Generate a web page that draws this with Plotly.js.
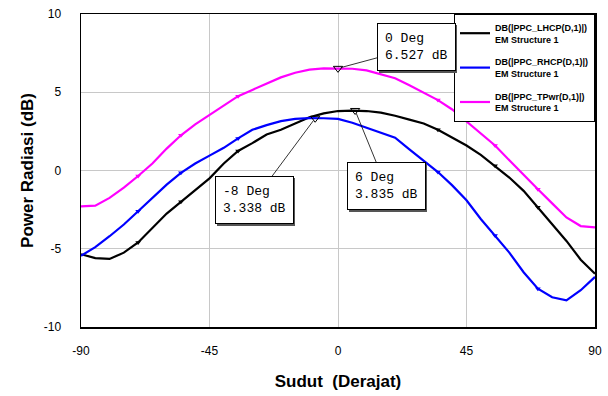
<!DOCTYPE html>
<html>
<head>
<meta charset="utf-8">
<script src="https://cdn.plot.ly/plotly-3.0.1.min.js"></script>
<style>html,body{margin:0;padding:0;background:#fff;}#chart{width:608px;height:396px;}</style>
</head>
<body>
<div id="chart"></div>
<script>
// Angle (degrees)
const angles = [-90,-85,-80,-75,-70,-65,-60,-55,-50,-45,-40,-35,-30,-25,-20,-15,-10,-5,0,5,10,15,20,25,30,35,40,45,50,55,60,65,70,75,80,85,90];
// DB(|PPC_LHCP(D,1)|)
const lhcp = [-5.35,-5.6,-5.65,-5.25,-4.6,-3.7,-2.75,-2.0,-1.25,-0.5,0.45,1.25,1.75,2.3,2.6,3.0,3.4,3.65,3.8,3.83,3.8,3.7,3.5,3.25,3.0,2.6,2.1,1.6,1.0,0.3,-0.45,-1.3,-2.35,-3.45,-4.5,-5.7,-6.6];
// DB(|PPC_RHCP(D,1)|)
const rhcp = [-5.45,-4.9,-4.2,-3.45,-2.6,-1.75,-0.9,-0.15,0.45,0.95,1.45,2.05,2.6,2.9,3.15,3.3,3.35,3.34,3.3,3.05,2.73,2.45,2.1,1.35,0.65,-0.1,-0.95,-1.9,-3.1,-4.15,-5.25,-6.5,-7.55,-8.1,-8.3,-7.65,-6.8];
// DB(|PPC_TPwr(D,1)|)
const tpwr = [-2.29,-2.25,-1.75,-1.1,-0.35,0.45,1.4,2.25,2.95,3.55,4.2,4.75,5.15,5.55,5.95,6.25,6.45,6.53,6.527,6.5,6.4,6.15,5.9,5.45,5.0,4.5,3.9,3.15,2.4,1.6,0.65,-0.3,-1.2,-2.1,-3.0,-3.55,-3.63];

const seriesNames = ["DB(|PPC_LHCP(D,1)|)<br>EM Structure 1","DB(|PPC_RHCP(D,1)|)<br>EM Structure 1","DB(|PPC_TPwr(D,1)|)<br>EM Structure 1"];
const seriesColors = ["#000000","#0000ff","#ff00ff"];
const seriesValues = [lhcp, rhcp, tpwr];

// identification marker angles on each curve
const idMarkerAngles = [-70,-55,-35,35,55,70];

// Marker readouts
const markerAngles = [0, -8, 6];
const markerValues = [6.527, 3.338, 3.835];
const markerOffsets = [[78,-21],[-61,82],[31,76]];

const xTicks = [-90,-45,0,45,90];
const yTicks = [-10,-5,0,5,10];

const traces = [];
seriesValues.forEach((vals,i)=>{
  traces.push({x:angles, y:vals, mode:'lines', name:seriesNames[i], legendgroup:'g'+i,
    line:{color:seriesColors[i], width:2.2}});
});
seriesValues.forEach((vals,i)=>{
  const mx=[], my=[];
  idMarkerAngles.forEach(a=>{const k=angles.indexOf(a); mx.push(a); my.push(vals[k]);});
  traces.push({x:mx, y:my, mode:'markers', showlegend:false, hoverinfo:'skip',
    marker:{symbol:'triangle-down', size:5, color:seriesColors[i]}});
});
traces.push({x:markerAngles, y:markerValues, mode:'markers', showlegend:false,
  marker:{symbol:'triangle-down-open', size:8, color:'#000', line:{width:1}}});

const annotations = [];
const monoFont = 'Liberation Mono, DejaVu Sans Mono, monospace';
const blank = s => s.replace(/./g, '\u00a0');
markerAngles.forEach((a,i)=>{
  const l1 = a + " Deg", l2 = markerValues[i].toFixed(3) + " dB";
  const txt = l1 + "<br>" + l2;
  // drop shadow box (blank text of equal width in monospace)
  annotations.push({x:a, y:markerValues[i], xref:'x', yref:'y', text:blank(l1) + "<br>" + blank(l2), showarrow:true,
    ax:markerOffsets[i][0], ay:markerOffsets[i][1], xshift:2, yshift:-2, arrowcolor:'rgba(0,0,0,0)',
    arrowhead:0, align:'left', bgcolor:'#555', bordercolor:'#555', borderwidth:1, borderpad:7,
    font:{family:monoFont, size:13, color:'#555'}});
  annotations.push({x:a, y:markerValues[i], xref:'x', yref:'y', text:txt, showarrow:true,
    ax:markerOffsets[i][0], ay:markerOffsets[i][1], arrowcolor:'#000', arrowwidth:0.8,
    arrowhead:0, standoff:3, align:'left', bgcolor:'#fff', bordercolor:'#000', borderwidth:1, borderpad:7,
    font:{family:monoFont, size:13, color:'#000'}});
});

const layout = {
  width:608, height:396,
  margin:{l:81, r:13, t:14, b:69},
  paper_bgcolor:'#fff', plot_bgcolor:'#fff',
  showlegend:true,
  legend:{x:1, xanchor:'right', y:1, yanchor:'top', bgcolor:'#fff', bordercolor:'#000', borderwidth:1,
    font:{family:'Liberation Sans, Arial, sans-serif', size:9, color:'#000', weight:'bold'}, itemwidth:30, tracegroupgap:8},
  xaxis:{range:[-90,90], tickvals:xTicks, ticktext:xTicks.map(String), showgrid:true, gridcolor:'#c8c8c8', gridwidth:1,
    zeroline:false, showline:true, linecolor:'#000', linewidth:1.5, mirror:true, ticks:'', ticklabelstandoff:12,
    tickfont:{family:'Liberation Sans, Arial, sans-serif', size:12, color:'#000'},
    title:{text:'Sudut  (Derajat)', standoff:18, font:{family:'Liberation Sans, Arial, sans-serif', size:17, color:'#000', weight:'bold'}}},
  yaxis:{range:[-10,10], tickvals:yTicks, ticktext:yTicks.map(String), showgrid:true, gridcolor:'#c8c8c8', gridwidth:1,
    zeroline:false, showline:true, linecolor:'#000', linewidth:1.5, mirror:true, ticks:'', ticklabelstandoff:16,
    tickfont:{family:'Liberation Sans, Arial, sans-serif', size:12, color:'#000'},
    title:{text:'Power Radiasi (dB)', standoff:6, font:{family:'Liberation Sans, Arial, sans-serif', size:17, color:'#000', weight:'bold'}}},
  annotations: annotations
};

Plotly.newPlot('chart', traces, layout, {staticPlot:true, displayModeBar:false});
</script>
</body>
</html>
